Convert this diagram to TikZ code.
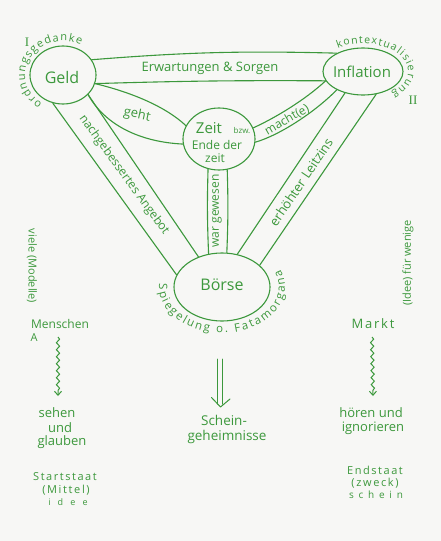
\documentclass[tikz,border=0pt]{standalone}
\usepackage{fontspec}
\setmainfont{Open Sans}
\newfontfamily\romf{Liberation Serif}
\usetikzlibrary{shapes.geometric,decorations.text,decorations.pathmorphing,arrows.meta}
\definecolor{grn}{RGB}{60,152,60}
\definecolor{bg}{RGB}{247,247,245}
\newcommand\fz[1]{\fontsize{#1}{#1}\selectfont}
\begin{document}
\begin{tikzpicture}[x=1pt, y=-1pt,
  bandline/.style={draw=grn, line width=1.1pt, line cap=round, line join=round},
  blob/.style={ellipse, draw=grn, line width=1.1pt, inner sep=0pt},
  lbl/.style={text=grn, inner sep=0pt},
  squig/.style={draw=grn, line width=1pt, decorate,
    decoration={snake, amplitude=1.6pt, segment length=7pt, post length=5pt},
    -{Straight Barb[length=4pt,width=7pt]}},
  thinline/.style={draw=grn, line width=1pt, line cap=round, line join=round},
]
\fill[bg] (0,0) rectangle (441,541);
\useasboundingbox (0,0) rectangle (441,541);

% blobs
\node[blob, minimum width=66pt, minimum height=58pt] (geld) at (63,75) {};
\node[blob, minimum width=80pt, minimum height=47pt] (infl) at (363,71.5) {};
\node[blob, minimum width=72pt, minimum height=62pt] (zeit) at (219,139) {};
\node[blob, minimum width=96pt, minimum height=68pt] (boerse) at (222,287) {};

\node[lbl, font=\fz{16}] (geldt) at (62,77) {Geld};
\node[lbl, font=\fz{15}] (inflt) at (362,72) {Inflation};
\node[lbl, font=\fz{16}] (boerset) at (222,285) {Börse};
\node[lbl, font=\fz{15}] (zt1) at (209,128) {Zeit};
\node[lbl, font=\fz{8}] (zt2) at (242,131) {bzw.};
\node[lbl, font=\fz{12}] (zt3) at (217,145) {Ende der};
\node[lbl, font=\fz{12}] (zt4) at (215,158) {zeit};

% bands
\draw[bandline] (geld.28) to[bend left=3] (infl.145);
\draw[bandline] (geld.-15) to[bend left=1] (infl.-166);
\draw[bandline] (geld.-15) .. controls (130,92) and (165,106) .. (zeit.158);
\draw[bandline] (geld.-38) .. controls (105,125) and (140,142) .. (zeit.-172);
\draw[bandline] (geld.-110) -- (boerse.165);
\draw[bandline] (geld.-38) -- (boerse.128);
\draw[bandline] (zeit.-110) to[bend right=2] (boerse.112);
\draw[bandline] (zeit.-75) to[bend left=2] (boerse.82);
\draw[bandline] (infl.-166) .. controls (305,100) and (275,118) .. (zeit.18);
\draw[bandline] (infl.-145) .. controls (315,112) and (280,135) .. (zeit.-5);
\draw[bandline] (infl.-130) -- (boerse.65);
\draw[bandline] (infl.-60) -- (boerse.30);

% band labels
\node[lbl, font=\fz{13}] (erw) at (210,68) {Erwartungen \& Sorgen};
\node[lbl, font=\fz{13}, rotate=-12] (geht) at (137,115) {geht};
\node[lbl, font=\fz{12}, rotate=-54] (nach) at (124,175) {nachgebessertes Angebot};
\node[lbl, font=\fz{12}, rotate=90] (war) at (217,211) {war gewesen};
\node[lbl, font=\fz{12}, rotate=30] (macht) at (287,120) {macht(e)};
\node[lbl, font=\fz{13}, rotate=56] (leit) at (301,182) {erhöhter Leitzins};

% curved texts
\path[decorate, decoration={text along path, text align={fit to path},
  text={|\color{grn}\fz{11}|ordnungsgedanke}}]
  (geld.center) ++(237:38pt and 34pt) arc[start angle=237, end angle=62, x radius=38pt, y radius=34pt];
\path[decorate, decoration={text along path, text align={fit to path},
  text={|\color{grn}\fz{10.5}|kontextualisierung}}]
  (infl.center) ++(124:45pt and 28pt) arc[start angle=124, end angle=-50, x radius=45pt, y radius=28pt];
\path[decorate, decoration={text along path, text align={fit to path},
  text={|\color{grn}\fz{11.5}|Spiegelung o. Fatamorgana}}]
  (boerse.center) ++(176:63pt and 46pt) arc[start angle=176, end angle=382, x radius=63pt, y radius=46pt];

\node[lbl, font=\romf\fz{13}] (one) at (27,42) {I};
\node[lbl, font=\romf\fz{13}] (two) at (413,100) {II};

% left column
\node[lbl, font=\fz{11}, rotate=-90] (viele) at (32,266) {viele (Modelle)};
\node[lbl, font=\fz{12}] (mensch) at (60,324) {Menschen};
\node[lbl, font=\fz{11}] (aa) at (34,338) {A};
\coordinate (s1a) at (58,337);
\coordinate (s1b) at (58,396);
\draw[squig] (s1a) -- (s1b);
\node[lbl, font=\fz{13}] (sehen) at (57,413) {sehen};
\node[lbl, font=\fz{13}] (und) at (60,428) {und};
\node[lbl, font=\fz{13}] (glauben) at (62,442) {glauben};
\node[lbl, font=\fz{11}\addfontfeature{LetterSpace=14}] (start) at (65,477) {Startstaat};
\node[lbl, font=\fz{11}\addfontfeature{LetterSpace=15}] (mittel) at (66,490) {(Mittel)};
\node[lbl, font=\fz{9}\addfontfeature{LetterSpace=80}] (idee) at (68,502) {idee};

% middle column: double arrow
\coordinate (da1) at (217,359);
\coordinate (db1) at (217,404);
\coordinate (da2) at (222,359);
\coordinate (db2) at (222,404);
\coordinate (hl) at (211.5,397.5);
\coordinate (tip) at (220.5,407);
\coordinate (hr) at (230,399);
\draw[thinline] (da1) -- (db1);
\draw[thinline] (da2) -- (db2);
\draw[thinline] (hl) -- (tip) -- (hr);
\node[lbl, font=\fz{13.5}] (schein1) at (224,420) {Schein-};
\node[lbl, font=\fz{13.5}] (schein2) at (227,437) {geheimnisse};

% right column
\node[lbl, font=\fz{11}, rotate=90] (ideew) at (408,263) {(Idee) für wenige};
\node[lbl, font=\fz{13}\addfontfeature{LetterSpace=14}] (markt) at (373,324) {Markt};
\coordinate (s2a) at (372,337);
\coordinate (s2b) at (373,396);
\draw[squig] (s2a) -- (s2b);
\node[lbl, font=\fz{13}] (hoeren) at (371,413) {hören und};
\node[lbl, font=\fz{13}] (ignor) at (373,428) {ignorieren};
\node[lbl, font=\fz{11}\addfontfeature{LetterSpace=14}] (end) at (375,470) {Endstaat};
\node[lbl, font=\fz{11}\addfontfeature{LetterSpace=15}] (zweck) at (375,483) {(zweck)};
\node[lbl, font=\fz{10}\addfontfeature{LetterSpace=48}] (schein) at (376,495) {schein};
\end{tikzpicture}
\end{document}
